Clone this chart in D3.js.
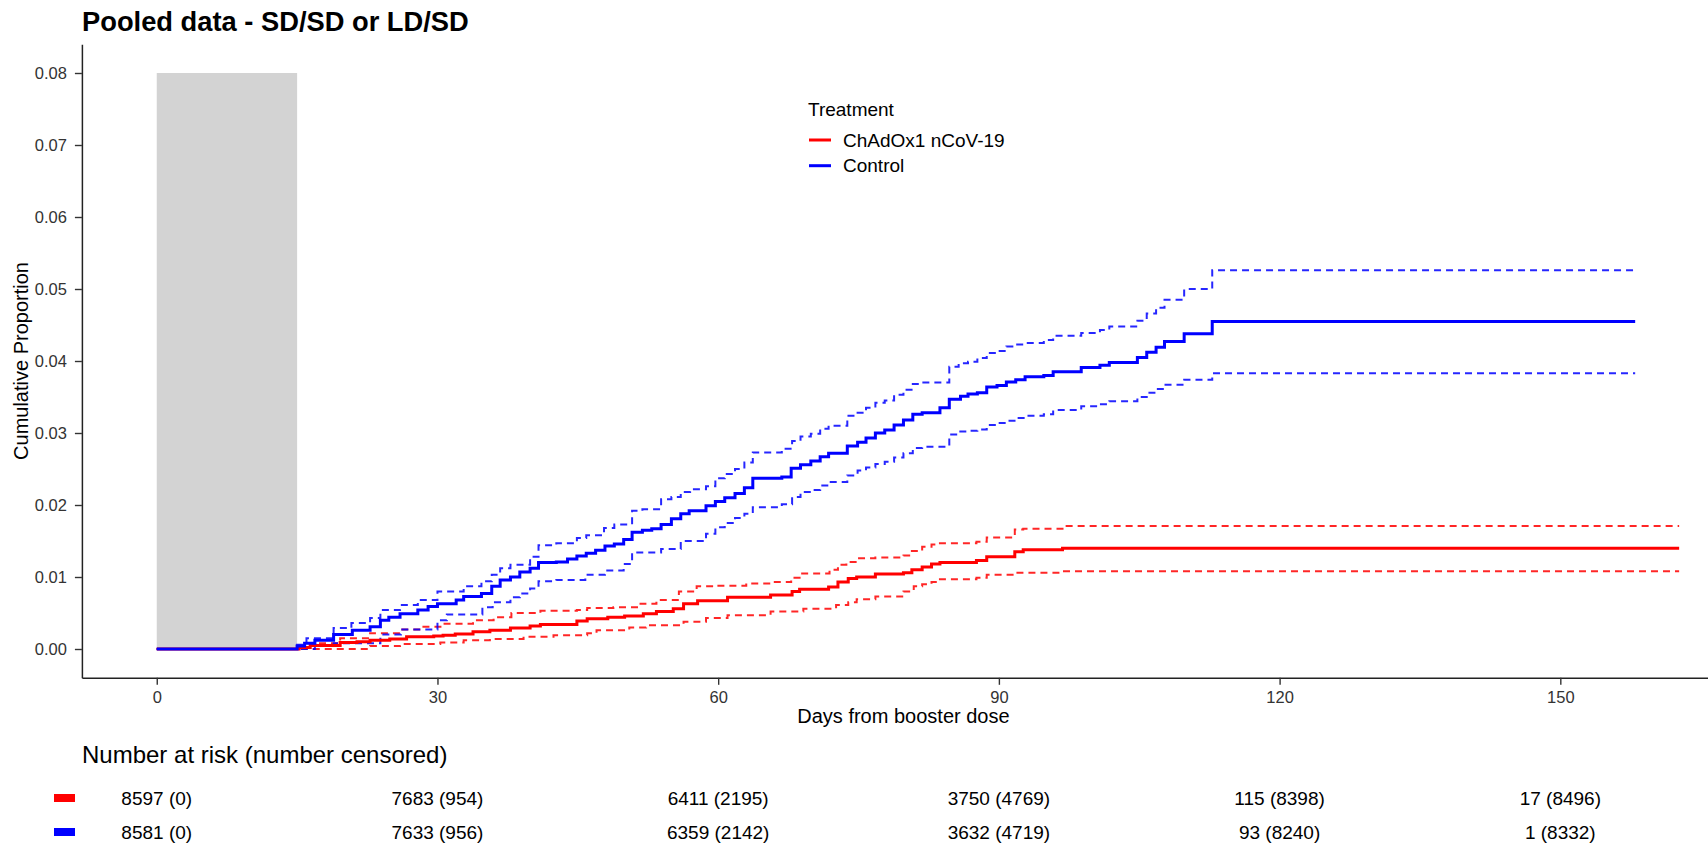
<!DOCTYPE html>
<html>
<head>
<meta charset="utf-8" />
<title>Pooled data - SD/SD or LD/SD</title>
<script src="https://cdn.jsdelivr.net/npm/d3@7"></script>
<style>
  body { margin: 0; background: #fff; }
  svg text { font-family: "Liberation Sans", Arial, sans-serif; }
</style>
</head>
<body>
<svg id="chart" width="1708" height="845"></svg>
<script>
// step data: [day, cumulative proportion]
var chadEst = [[0,0],[15.2,0.0002],[16.4,0.0005],[19.6,0.0009],[21.4,0.0010],[22.8,0.0012],[24.9,0.0014],[26.7,0.0017],[29.6,0.0018],[30.6,0.0019],[31.9,0.0021],[33.8,0.0024],[35.6,0.0026],[37.8,0.0029],[39.9,0.0032],[41.0,0.0034],[44.9,0.0039],[46.0,0.0042],[48.2,0.0044],[50.0,0.0046],[52.0,0.0049],[53.4,0.0052],[55.2,0.0056],[56.3,0.0063],[57.8,0.0067],[61.0,0.0072],[65.6,0.0075],[67.9,0.0080],[68.7,0.0083],[71.8,0.0086],[72.8,0.0093],[73.9,0.0098],[74.8,0.0100],[76.8,0.0104],[79.8,0.0106],[80.7,0.0110],[81.8,0.0114],[82.8,0.0118],[83.7,0.0120],[87.6,0.0123],[88.7,0.0128],[91.7,0.0135],[92.6,0.0138],[96.8,0.0140],[162.7,0.0140]];
var chadUpper = [[0,0],[15.3,0.0004],[16.4,0.0008],[19.6,0.0015],[22.8,0.0022],[26.0,0.0027],[28.5,0.0031],[30.6,0.0035],[33.8,0.0040],[36.0,0.0044],[37.9,0.0050],[41.0,0.0053],[44.9,0.0054],[46.0,0.0057],[48.8,0.0058],[51.7,0.0063],[53.4,0.0068],[55.8,0.0080],[57.7,0.0087],[59.8,0.0088],[63.0,0.0091],[65.9,0.0093],[67.8,0.0099],[68.7,0.0105],[71.9,0.0110],[72.8,0.0117],[73.7,0.0121],[74.8,0.0126],[76.8,0.0127],[79.8,0.0130],[80.7,0.0136],[81.8,0.0142],[82.8,0.0145],[83.7,0.0147],[87.6,0.0149],[88.7,0.0155],[91.7,0.0166],[92.6,0.0167],[96.8,0.0171],[162.7,0.0171]];
var chadLower = [[0,0],[22.8,0.0004],[26.0,0.0007],[30.3,0.0009],[32.8,0.0012],[35.6,0.0014],[39.2,0.0017],[42.4,0.0019],[46.0,0.0022],[47.0,0.0026],[50.5,0.0030],[52.3,0.0033],[56.3,0.0038],[58.7,0.0043],[61.0,0.0047],[65.6,0.0052],[69.1,0.0056],[72.6,0.0061],[73.9,0.0065],[74.8,0.0069],[76.8,0.0073],[79.8,0.0080],[80.9,0.0087],[81.8,0.0090],[82.8,0.0093],[83.7,0.0097],[87.6,0.0099],[88.7,0.0103],[91.7,0.0106],[96.8,0.0108],[162.7,0.0108]];

var ctrlEst = [[0,0],[15.0,0.0004],[15.8,0.0008],[16.9,0.0012],[18.9,0.0020],[20.9,0.0026],[22.8,0.0031],[23.9,0.0040],[24.8,0.0044],[26.0,0.0049],[27.9,0.0054],[29.0,0.0059],[30.0,0.0063],[32.0,0.0068],[32.8,0.0073],[34.7,0.0077],[35.8,0.0087],[36.7,0.0096],[37.8,0.0100],[38.8,0.0107],[39.9,0.0112],[40.8,0.0120],[42.7,0.0121],[43.9,0.0125],[44.9,0.0129],[45.9,0.0133],[46.9,0.0137],[47.9,0.0143],[48.9,0.0146],[49.9,0.0152],[50.8,0.0162],[51.9,0.0165],[52.9,0.0167],[53.9,0.0173],[55.0,0.0181],[56.0,0.0188],[56.9,0.0192],[58.7,0.0199],[59.7,0.0205],[60.7,0.0210],[61.8,0.0216],[62.8,0.0224],[63.7,0.0237],[66.8,0.0239],[67.8,0.0251],[68.8,0.0256],[69.9,0.0261],[70.9,0.0267],[71.8,0.0272],[73.8,0.0282],[74.9,0.0287],[75.8,0.0293],[76.8,0.0300],[77.8,0.0304],[78.8,0.0311],[79.8,0.0318],[80.8,0.0326],[81.8,0.0328],[83.7,0.0335],[84.7,0.0347],[85.9,0.0351],[86.7,0.0354],[87.7,0.0356],[88.7,0.0364],[89.8,0.0366],[90.8,0.0371],[91.8,0.0374],[92.8,0.0378],[94.8,0.0380],[95.8,0.0385],[98.8,0.0391],[100.8,0.0394],[101.8,0.0398],[104.8,0.0405],[105.8,0.0412],[106.8,0.0419],[107.7,0.0427],[109.8,0.0438],[112.8,0.0455],[158.0,0.0455]];
var ctrlUpper = [[0,0],[15.0,0.0006],[16.0,0.0015],[18.9,0.0029],[20.8,0.0036],[22.8,0.0043],[23.9,0.0054],[26.0,0.0061],[27.9,0.0068],[30.0,0.0080],[32.8,0.0087],[34.7,0.0094],[35.8,0.0103],[36.7,0.0112],[37.8,0.0117],[39.9,0.0128],[40.8,0.0144],[42.7,0.0147],[44.9,0.0154],[45.9,0.0158],[47.8,0.0168],[48.9,0.0173],[50.8,0.0192],[51.9,0.0194],[53.9,0.0208],[55.0,0.0211],[56.0,0.0218],[57.0,0.0222],[58.7,0.0226],[59.7,0.0237],[60.7,0.0243],[61.8,0.0250],[62.8,0.0259],[63.7,0.0273],[66.8,0.0278],[67.9,0.0289],[68.8,0.0295],[69.9,0.0299],[70.9,0.0306],[71.8,0.0310],[73.8,0.0324],[74.9,0.0328],[75.8,0.0335],[76.8,0.0342],[77.8,0.0345],[78.8,0.0353],[79.8,0.0360],[80.8,0.0368],[81.8,0.0370],[84.7,0.0392],[85.7,0.0397],[86.7,0.0399],[87.7,0.0404],[88.7,0.0411],[89.8,0.0414],[90.8,0.0420],[91.8,0.0423],[92.8,0.0425],[94.8,0.0429],[95.8,0.0435],[98.8,0.0439],[100.8,0.0443],[101.8,0.0448],[104.8,0.0456],[105.8,0.0466],[106.8,0.0474],[107.7,0.0485],[109.8,0.0500],[112.8,0.0526],[158.0,0.0526]];
var ctrlLower = [[0,0],[16.9,0.0004],[18.9,0.0008],[23.9,0.0020],[26.1,0.0027],[30.0,0.0040],[31.0,0.0048],[34.8,0.0058],[35.9,0.0065],[37.8,0.0072],[38.8,0.0077],[39.9,0.0084],[40.8,0.0094],[42.7,0.0096],[45.8,0.0103],[47.9,0.0109],[49.9,0.0118],[50.8,0.0134],[53.9,0.0139],[56.0,0.0150],[58.7,0.0160],[59.7,0.0169],[60.7,0.0175],[61.8,0.0182],[62.8,0.0188],[63.7,0.0197],[66.8,0.0201],[67.9,0.0211],[68.8,0.0218],[69.9,0.0221],[70.9,0.0227],[71.8,0.0232],[73.8,0.0241],[74.9,0.0248],[75.8,0.0252],[76.8,0.0257],[77.8,0.0260],[78.8,0.0266],[79.8,0.0272],[80.8,0.0279],[81.8,0.0281],[84.7,0.0298],[85.7,0.0302],[86.7,0.0303],[87.7,0.0305],[88.7,0.0311],[89.8,0.0314],[90.8,0.0317],[91.8,0.0321],[92.8,0.0324],[94.8,0.0326],[95.8,0.0332],[98.8,0.0337],[100.8,0.0340],[101.8,0.0344],[104.8,0.0350],[105.8,0.0356],[106.8,0.0361],[107.7,0.0367],[109.8,0.0374],[112.8,0.0383],[158.0,0.0383]];

var groups = ["ChAdOx1 nCoV-19", "Control"];
var groupColors = ["#ff0000", "#0000ff"];
var shadeDays = [0, 15];
var shadeTop = 0.08;
var xTicks = [0, 30, 60, 90, 120, 150];
var yTicks = [0, 0.01, 0.02, 0.03, 0.04, 0.05, 0.06, 0.07, 0.08];
var riskTimes = [0, 30, 60, 90, 120, 150];
var riskChad = ["8597 (0)", "7683 (954)", "6411 (2195)", "3750 (4769)", "115 (8398)", "17 (8496)"];
var riskCtrl = ["8581 (0)", "7633 (956)", "6359 (2142)", "3632 (4719)", "93 (8240)", "1 (8332)"];

var svg = d3.select("#chart");

// panel goes a little past the right edge of the picture
var x = d3.scaleLinear().domain([-8, 167.6]).range([81.9, 1725]);
var y = d3.scaleLinear().domain([-0.004, 0.084]).range([677.8, 44.2]);

// title
svg.append("text")
    .attr("x", 82).attr("y", 31)
    .attr("font-size", "27.3px").attr("font-weight", "bold")
    .text("Pooled data - SD/SD or LD/SD");

// grey window for the first 15 days
svg.append("rect")
    .attr("x", x(shadeDays[0]))
    .attr("y", y(shadeTop))
    .attr("width", x(shadeDays[1]) - x(shadeDays[0]))
    .attr("height", y(0) - y(shadeTop))
    .attr("fill", "#d3d3d3");

var line = d3.line()
    .x(function(d) { return x(d[0]); })
    .y(function(d) { return y(d[1]); })
    .curve(d3.curveStepAfter);

var series = [
    { data: chadUpper, color: groupColors[0], dashed: true },
    { data: chadLower, color: groupColors[0], dashed: true },
    { data: ctrlUpper, color: groupColors[1], dashed: true },
    { data: ctrlLower, color: groupColors[1], dashed: true },
    { data: chadEst, color: groupColors[0], dashed: false },
    { data: ctrlEst, color: groupColors[1], dashed: false }
];

svg.append("g").selectAll("path")
    .data(series)
    .enter().append("path")
    .attr("d", function(d) { return line(d.data); })
    .attr("fill", "none")
    .attr("stroke", function(d) { return d.color; })
    .attr("stroke-width", function(d) { return d.dashed ? 2 : 3; })
    .attr("stroke-opacity", function(d) { return d.dashed ? 0.85 : 1; })
    .attr("stroke-dasharray", function(d) { return d.dashed ? "7,5" : null; });

// axes
var yAxis = svg.append("g")
    .attr("transform", "translate(" + x.range()[0] + ",0)")
    .call(d3.axisLeft(y).tickValues(yTicks).tickFormat(d3.format(".2f"))
        .tickSize(7).tickSizeOuter(0).tickPadding(8));

var xAxis = svg.append("g")
    .attr("transform", "translate(0," + y.range()[0] + ")")
    .call(d3.axisBottom(x).tickValues(xTicks).tickFormat(d3.format("d"))
        .tickSize(7).tickSizeOuter(0).tickPadding(6));

[yAxis, xAxis].forEach(function(ax) {
    ax.attr("font-family", null).attr("font-size", null);
    ax.select(".domain").attr("stroke", "#222").attr("stroke-width", 1.5);
    ax.selectAll(".tick line").attr("stroke", "#333").attr("stroke-width", 1.4);
    ax.selectAll(".tick text").attr("fill", "#333").style("font-size", "16.5px");
});

svg.append("text")
    .attr("transform", "rotate(-90)")
    .attr("x", -(y.range()[0] + y.range()[1]) / 2)
    .attr("y", 28)
    .attr("text-anchor", "middle")
    .attr("font-size", "20px")
    .text("Cumulative Proportion");

svg.append("text")
    .attr("x", (x.range()[0] + x.range()[1]) / 2)
    .attr("y", 723)
    .attr("text-anchor", "middle")
    .attr("font-size", "20px")
    .text("Days from booster dose");

// legend
var legend = svg.append("g").attr("transform", "translate(808,0)");
legend.append("text")
    .attr("x", 0).attr("y", 116)
    .attr("font-size", "19px")
    .text("Treatment");
var item = legend.selectAll(".item")
    .data(groups)
    .enter().append("g")
    .attr("class", "item")
    .attr("transform", function(d, i) { return "translate(0," + (140 + i * 25.7) + ")"; });
item.append("line")
    .attr("x1", 1).attr("x2", 23)
    .attr("stroke", function(d, i) { return groupColors[i]; })
    .attr("stroke-width", 3);
item.append("text")
    .attr("x", 35).attr("y", 0).attr("dy", "0.35em")
    .attr("font-size", "19px")
    .text(function(d) { return d; });

// number at risk table
svg.append("text")
    .attr("x", 82).attr("y", 763)
    .attr("font-size", "24px")
    .text("Number at risk (number censored)");

var riskRows = [riskChad, riskCtrl];
var rowY = [798, 832];
riskRows.forEach(function(row, r) {
    svg.append("rect")
        .attr("x", 54).attr("y", rowY[r] - 4)
        .attr("width", 21).attr("height", 8)
        .attr("fill", groupColors[r]);
    svg.append("g").selectAll("text")
        .data(row)
        .enter().append("text")
        .attr("x", function(d, i) { return x(riskTimes[i]); })
        .attr("y", rowY[r])
        .attr("dy", "0.35em")
        .attr("text-anchor", "middle")
        .attr("font-size", "19px")
        .text(function(d) { return d; });
});
</script>
</body>
</html>
